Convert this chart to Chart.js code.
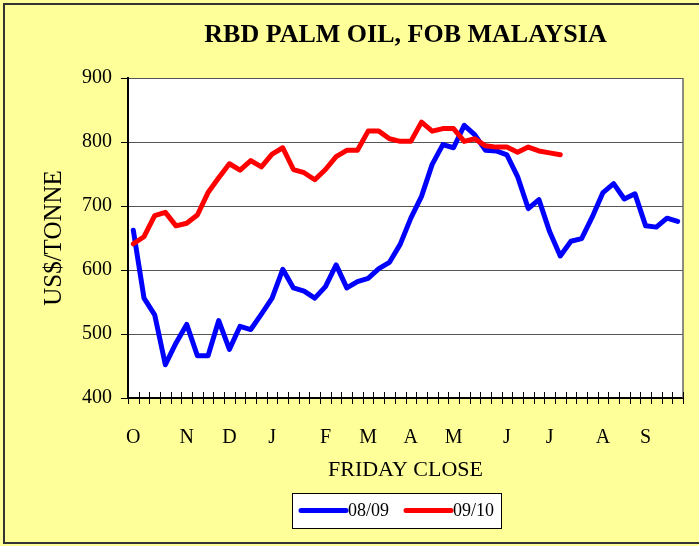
<!DOCTYPE html>
<html>
<head>
<meta charset="utf-8">
<script src="https://cdn.jsdelivr.net/npm/chart.js@4"></script>
<style>
html,body{margin:0;padding:0;background:#fff;}
#wrap{width:699px;height:546px;position:relative;}
</style>
</head>
<body>
<div id="wrap"><canvas id="c" width="699" height="546"></canvas></div>
<script>
const weeks = ["O","","","","","N","","","","D","","","","J","","","","","F","","","","M","","","","A","","","","M","","","","","J","","","","J","","","","","A","","","","S","","",""];
const series0809 = [662,556,530,452,486,515,466,466,521,476,512,507,531,556,601,572,567,556,574,608,572,582,587,602,612,640,681,715,765,796,791,826,811,787,786,780,746,696,710,660,622,645,649,683,721,735,711,719,669,667,681,676];
const series0910 = [641,652,685,690,669,673,686,721,744,766,756,771,761,781,791,757,752,741,757,777,787,787,817,817,805,801,801,831,817,821,821,801,805,794,792,792,784,792,786,783,780];
const yTicks = [400,500,600,700,800,900];
const seriesLabels = ["08/09","09/10"];
const seriesColors = ["#0000FF","#FF0000"];
const titleText = "RBD PALM OIL, FOB MALAYSIA";
const yTitle = "US$/TONNE";
const xTitle = "FRIDAY CLOSE";

const FONT = "'Liberation Serif','Times New Roman',serif";

const frame = {
  id: 'frame',
  beforeDraw(chart) {
    const ctx = chart.ctx, a = chart.chartArea;
    ctx.save();
    ctx.fillStyle = '#FFFF99';
    ctx.fillRect(0, 0, chart.width, chart.height);
    ctx.fillStyle = '#FFFFFF';
    ctx.fillRect(a.left, a.top, a.right - a.left, a.bottom - a.top);
    ctx.strokeStyle = '#333333';
    ctx.lineWidth = 2;
    ctx.strokeRect(4, 4, chart.width + 10, chart.height - 7);
    ctx.restore();
  },
  afterDatasetsDraw(chart) {
    const ctx = chart.ctx, a = chart.chartArea, xs = chart.scales.x;
    ctx.save();
    ctx.strokeStyle = '#666666';
    ctx.lineWidth = 1.5;
    ctx.beginPath();
    ctx.moveTo(a.right, a.top);
    ctx.lineTo(a.right, a.bottom);
    ctx.stroke();
    ctx.strokeStyle = '#000000';
    ctx.lineWidth = 1;
    for (let i = 0; i <= weeks.length; i++) {
      const x = Math.round(xs.getPixelForValue(i - 0.5)) + 0.5;
      ctx.beginPath();
      ctx.moveTo(x, a.bottom - 6);
      ctx.lineTo(x, a.bottom + 6);
      ctx.stroke();
    }
    ctx.restore();
  },
  afterDraw(chart) {
    const ctx = chart.ctx;
    const bx = 292, by = 493, bw = 209, bh = 35;
    ctx.save();
    ctx.fillStyle = '#FFFFFF';
    ctx.fillRect(bx, by, bw, bh);
    ctx.strokeStyle = '#000000';
    ctx.lineWidth = 1;
    ctx.strokeRect(bx + 0.5, by + 0.5, bw, bh);
    ctx.font = "18px " + FONT;
    ctx.textBaseline = 'middle';
    ctx.textAlign = 'left';
    const items = chart.data.datasets;
    const starts = [301, 406];
    items.forEach((ds, i) => {
      const x0 = starts[i];
      const y = by + bh / 2;
      ctx.strokeStyle = ds.borderColor;
      ctx.lineWidth = 5;
      ctx.lineCap = 'round';
      ctx.beginPath();
      ctx.moveTo(x0, y);
      ctx.lineTo(x0 + 45, y);
      ctx.stroke();
      ctx.fillStyle = '#000000';
      ctx.fillText(ds.label, x0 + 47, y + 1);
    });
    ctx.restore();
  }
};

new Chart(document.getElementById('c'), {
  type: 'line',
  data: {
    labels: weeks,
    datasets: [
      { label: seriesLabels[0], data: series0809, borderColor: seriesColors[0], backgroundColor: seriesColors[0],
        borderWidth: 5, pointRadius: 0, tension: 0, borderCapStyle: 'round', borderJoinStyle: 'round', order: 1 },
      { label: seriesLabels[1], data: series0910, borderColor: seriesColors[1], backgroundColor: seriesColors[1],
        borderWidth: 5, pointRadius: 0, tension: 0, borderCapStyle: 'round', borderJoinStyle: 'round', order: 0 }
    ]
  },
  plugins: [frame],
  options: {
    responsive: false,
    animation: false,
    devicePixelRatio: 1,
    layout: { padding: { left: 0, right: 16, top: 0, bottom: 0 } },
    plugins: {
      legend: { display: false },
      tooltip: { enabled: false },
      title: {
        display: true, text: titleText, fullSize: false, color: '#000',
        font: { family: FONT, size: 26, weight: 'bold' },
        padding: { top: 20, bottom: 26.8 }
      }
    },
    scales: {
      x: {
        type: 'category',
        offset: true,
        grid: { display: false, offset: true },
        border: { display: true, color: '#000', width: 2 },
        ticks: { autoSkip: false, maxRotation: 0, minRotation: 0, padding: 20, color: '#000',
                 font: { family: FONT, size: 20 } },
        title: { display: true, text: xTitle, color: '#000', font: { family: FONT, size: 22 },
                 padding: { top: 0, bottom: 63 } },
        afterFit(scale) { scale.height = 148; }
      },
      y: {
        min: 400, max: 900,
        afterBuildTicks(scale) { scale.ticks = yTicks.map(v => ({ value: v })); },
        grid: { color: '#555555', lineWidth: 1, tickLength: 7, tickColor: '#000', drawTicks: true },
        border: { display: true, color: '#000', width: 2 },
        ticks: { padding: 9, color: '#000', font: { family: FONT, size: 20 } },
        title: { display: true, text: yTitle, color: '#000', font: { family: FONT, size: 25 },
                 padding: { top: 39, bottom: 0 } },
        afterFit(scale) { scale.width = 128; }
      }
    }
  }
});
</script>
</body>
</html>
